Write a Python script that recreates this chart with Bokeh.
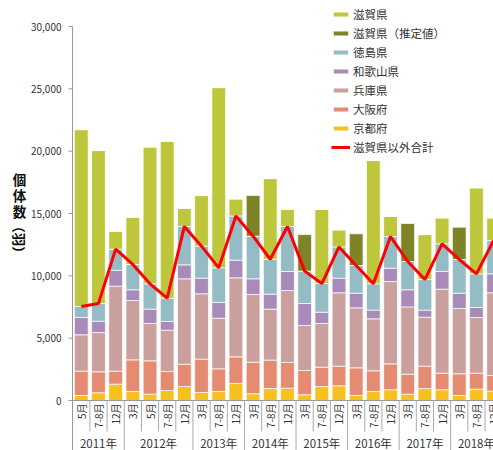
import math
from bokeh.plotting import figure
from bokeh.models import (ColumnDataSource, Range1d, Legend, LegendItem)
from bokeh.core.properties import value
from bokeh.embed import file_html
from bokeh.resources import INLINE

FONT = "Noto Sans CJK JP"

# ---- data ----
months = ["5月", "7-8月", "12月",
          "3月", "5月", "7-8月", "12月",
          "3月", "7-8月", "12月",
          "3月", "7-8月", "12月",
          "3月", "7-8月", "12月",
          "3月", "7-8月", "12月",
          "3月", "7-8月", "12月",
          "3月", "7-8月", "12月"]
years = ["2011年", "2012年", "2013年", "2014年", "2015年", "2016年", "2017年", "2018年"]
year_sizes = [3, 4, 3, 3, 3, 3, 3, 3]

kyoto = [400, 620, 1310, 720, 510, 800, 1120, 640, 720, 1360, 540, 960, 990,
         460, 1120, 1180, 400, 720, 860, 510, 960, 860, 400, 910, 750]
osaka = [1950, 1680, 1040, 2540, 2670, 1530, 1790, 2680, 1820, 2140, 2530, 2280, 2060,
         1950, 1550, 1570, 2220, 1660, 2080, 1600, 1790, 1330, 1740, 1280, 1260]
hyogo = [2920, 3150, 6820, 4760, 3000, 3310, 6850, 5240, 4060, 6340, 5430, 4090, 5770,
         3610, 3510, 5890, 4810, 4170, 6600, 5400, 3930, 6740, 5240, 4470, 6630]
wakayama = [1390, 910, 1280, 860, 1150, 700, 1120, 1250, 1260, 1420, 1260, 1200, 1530,
            1760, 900, 1170, 1180, 700, 1070, 1370, 570, 1420, 1230, 800, 1520]
tokushima = [880, 1420, 1690, 2030, 2030, 1870, 3080, 2570, 2780, 3540, 3420, 2800, 3610,
             2600, 2300, 2510, 2220, 2110, 2540, 2270, 2450, 2220, 2700, 2700, 2670]
shiga = [14190, 12270, 1440, 3790, 10980, 12590, 1460, 4060, 14460, 1370, 0, 6470, 1390,
         0, 5940, 1370, 0, 9890, 1630, 0, 3610, 2080, 0, 6900, 1820]
shiga_est = [0, 0, 0, 0, 0, 0, 0, 0, 0, 0, 3260, 0, 0,
             2930, 0, 0, 2540, 0, 0, 3050, 0, 0, 2590, 0, 0]

y_ticks = [0, 5000, 10000, 15000, 20000, 25000, 30000]
y_title_upright = ["個", "体", "数"]
y_title_rotated = "（羽）"

# ---- derived ----
n = len(months)
xs = list(range(n))
others_total = [k + o + h + w + t for k, o, h, w, t in zip(kyoto, osaka, hyogo, wakayama, tokushima)]

src = ColumnDataSource(dict(x=xs, kyoto=kyoto, osaka=osaka, hyogo=hyogo, wakayama=wakayama,
                            tokushima=tokushima, shiga=shiga, shiga_est=shiga_est,
                            total=others_total))

colors = {
    "shiga": "#BEC73B",
    "shiga_est": "#7E8328",
    "tokushima": "#95BBC4",
    "wakayama": "#A88BB9",
    "hyogo": "#C9A09D",
    "osaka": "#E48B71",
    "kyoto": "#F6C11F",
}

# ---- geometry (frame covers the whole canvas; axes drawn by hand) ----
W, H = 493, 450
AXIS_PX = 72.0          # pixel x of the value axis
ZERO_PX = 400.0         # pixel y of value 0
TOP_TICK_PX = 26.0      # pixel y of value 30000
pitch = 17.18           # pixels per category
upp = 30000.0 / (ZERO_PX - TOP_TICK_PX)   # value units per pixel
ax_x = -0.512
x_start = ax_x - AXIS_PX / pitch
x_end = x_start + W / pitch
y_top = 30000 + TOP_TICK_PX * upp
y_bot = -(H - ZERO_PX) * upp


def px_to_x(px):
    return x_start + px / pitch


def px_to_y(py):
    return (ZERO_PX - py) * upp


p = figure(width=W, height=H, output_backend="svg", toolbar_location=None,
           x_range=Range1d(x_start, x_end), y_range=Range1d(y_bot, y_top),
           x_axis_location=None, y_axis_location=None,
           min_border_left=0, min_border_right=0, min_border_top=0, min_border_bottom=0)
p.outline_line_color = None
p.xgrid.visible = False
p.ygrid.visible = False
p.background_fill_color = "white"
p.border_fill_color = "white"

stack_keys = ["kyoto", "osaka", "hyogo", "wakayama", "tokushima", "shiga", "shiga_est"]
rends = p.vbar_stack(stack_keys, x="x", width=0.8, source=src,
                     color=[colors[k] for k in stack_keys],
                     line_color="white", line_alpha=0.7, line_width=1)
rmap = dict(zip(stack_keys, rends))

line = p.line("x", "total", source=src, line_color="#FF0000", line_width=3)

AX_COL = "#999999"
# x baseline
p.segment(x0=[ax_x], y0=[0], x1=[x_end], y1=[0], line_color=AX_COL, line_width=1)

# value axis: line, ticks, labels
p.segment(x0=[ax_x], y0=[y_bot], x1=[ax_x], y1=[30000], line_color=AX_COL, line_width=1)
p.segment(x0=[ax_x - 4 / pitch] * len(y_ticks), y0=y_ticks,
          x1=[ax_x] * len(y_ticks), y1=y_ticks, line_color=AX_COL, line_width=1)
p.text(x=[ax_x - 11 / pitch] * len(y_ticks), y=y_ticks,
       text=[f"{t:,}" for t in y_ticks], text_align="right", text_baseline="middle",
       text_font=value(FONT), text_font_size="10px", text_color="#333333")

# category separators
year_ends = []
acc = 0
for s in year_sizes:
    acc += s
    year_ends.append(acc - 1)
sep_x, sep_y1 = [], []
for i in range(n - 1):
    sep_x.append(i + 0.5)
    sep_y1.append(y_bot if i in year_ends else -31 * upp)
p.segment(x0=sep_x, y0=[0] * len(sep_x), x1=sep_x, y1=sep_y1,
          line_color="#AAAAAA", line_width=1)

# month labels
p.text(x=xs, y=[0] * n, text=months, angle=math.pi / 2, text_align="right",
       text_baseline="middle", y_offset=3, text_font=value(FONT),
       text_font_size="10px", text_color="#333333")

# year labels
centers = []
start = 0
for s in year_sizes:
    centers.append(start + (s - 1) / 2)
    start += s
p.text(x=centers, y=[0] * len(centers), text=years, text_align="center",
       text_baseline="middle", y_offset=42, text_font=value(FONT),
       text_font_size="11.5px", text_color="#333333")

# y title: upright stacked characters + rotated unit
p.text(x=[px_to_x(19)] * 3, y=[px_to_y(178), px_to_y(194), px_to_y(210)],
       text=y_title_upright, text_align="center", text_baseline="middle",
       text_font=value(FONT), text_font_size="13.5px", text_font_style="bold",
       text_color="#111111")
p.text(x=[px_to_x(19)], y=[px_to_y(239)], text=[y_title_rotated], angle=-math.pi / 2,
       text_align="center", text_baseline="middle", text_font=value(FONT),
       text_font_size="13.5px", text_font_style="bold", text_color="#111111")

# legend (location = bottom-left corner, measured from the frame's bottom-left)
ROW_H, GAP = 16, 3
N_ITEMS = 8
legend_h = N_ITEMS * ROW_H + (N_ITEMS - 1) * GAP
LEG_TOP_PX = 5.5
legend = Legend(items=[
    LegendItem(label="滋賀県", renderers=[rmap["shiga"]]),
    LegendItem(label="滋賀県（推定値）", renderers=[rmap["shiga_est"]]),
    LegendItem(label="徳島県", renderers=[rmap["tokushima"]]),
    LegendItem(label="和歌山県", renderers=[rmap["wakayama"]]),
    LegendItem(label="兵庫県", renderers=[rmap["hyogo"]]),
    LegendItem(label="大阪府", renderers=[rmap["osaka"]]),
    LegendItem(label="京都府", renderers=[rmap["kyoto"]]),
    LegendItem(label="滋賀県以外合計", renderers=[line]),
], location=(331, H - LEG_TOP_PX - legend_h), glyph_width=19, glyph_height=6,
    label_standoff=3, label_text_font=FONT, label_text_font_size="11.5px",
    label_text_color="#333333", label_height=ROW_H, spacing=GAP, padding=0, margin=0,
    border_line_color=None, background_fill_alpha=0)
p.add_layout(legend)

open("out.html", "w").write(file_html(p, INLINE))
